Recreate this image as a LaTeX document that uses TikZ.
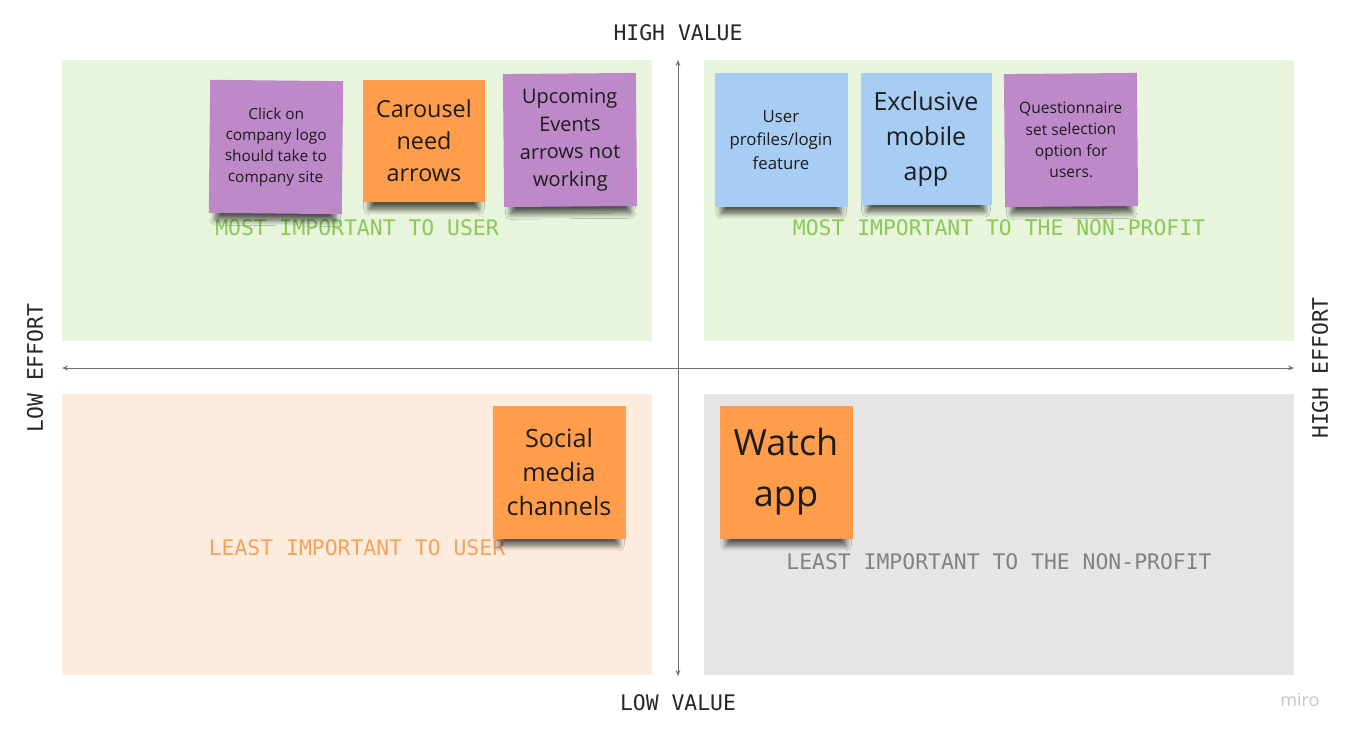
\documentclass[tikz,border=0pt]{standalone}
\usepackage{fontspec}
\setmainfont{Open Sans}
\newfontfamily\monofont{DejaVu Sans Mono}
\usetikzlibrary{positioning,shadows.blur,arrows.meta}

\definecolor{greenbg}{HTML}{E8F5DC}
\definecolor{orangebg}{HTML}{FDECDD}
\definecolor{greybg}{HTML}{E5E5E5}
\definecolor{purplenote}{HTML}{BE89C8}
\definecolor{orangenote}{HTML}{FF9D4A}
\definecolor{bluenote}{HTML}{A8CDF4}
\definecolor{greentext}{HTML}{8AC955}
\definecolor{orangetext}{HTML}{F5A25A}
\definecolor{greytext}{HTML}{828282}
\definecolor{axisgrey}{HTML}{707070}
\definecolor{notetext}{HTML}{1C1C1C}

\begin{document}
\begin{tikzpicture}[x=0.5pt,y=-0.5pt,
    quad/.style={minimum width=295pt,minimum height=140.5pt,inner sep=0pt},
    note/.style={minimum width=66.5pt,minimum height=66.5pt,inner sep=0pt,
      align=center,text=notetext,
      blur shadow={shadow xshift=0pt,shadow yshift=-7.5pt,shadow scale=.9,
        shadow blur steps=10,shadow blur radius=3pt,shadow opacity=65}},
    purple/.style={note,fill=purplenote},
    orange/.style={note,fill=orangenote},
    blue/.style={note,fill=bluenote},
    axislabel/.style={font=\monofont\fontsize{10.7}{13}\selectfont,text=black!85},
    zonelabel/.style={font=\monofont\fontsize{10.7}{13}\selectfont},
    axis/.style={draw=axisgrey,line width=.5pt,{Stealth[length=3pt,width=2.4pt]}-{Stealth[length=3pt,width=2.4pt]}}]
  \useasboundingbox[fill=white] (0,0) rectangle (1354,738);

  % quadrants
  \node[quad,fill=greenbg]  (q_tl) at (357,200.5) {};
  \node[quad,fill=greenbg]  (q_tr) at (999,200.5) {};
  \node[quad,fill=orangebg] (q_bl) at (357,534.5) {};
  \node[quad,fill=greybg]   (q_br) at (999,534.5) {};

  % axes
  \coordinate (v_top) at (678,60);
  \coordinate (v_bot) at (678,676);
  \coordinate (h_left) at (62,368);
  \coordinate (h_right) at (1294,368);
  \draw[axis] (v_bot) -- (v_top);
  \draw[axis] (h_left) -- (h_right);

  \node[axislabel] (high_value) at (678,33) {HIGH VALUE};
  \node[axislabel] (low_value) at (678,703) {LOW VALUE};
  \node[axislabel,rotate=90] (low_effort) at (35,368) {LOW EFFORT};
  \node[axislabel,rotate=90] (high_effort) at (1320,368) {HIGH EFFORT};

  \node[zonelabel,text=greentext]  (most_user) at (357,228) {MOST IMPORTANT TO USER};
  \node[zonelabel,text=greentext]  (most_np) at (999,228) {MOST IMPORTANT TO THE NON-PROFIT};
  \node[zonelabel,text=orangetext] (least_user) at (357,548) {LEAST IMPORTANT TO USER};
  \node[zonelabel,text=greytext]   (least_np) at (999,562) {LEAST IMPORTANT TO THE NON-PROFIT};

  % sticky notes, top left
  \node[purple,rotate=-.6,font=\fontsize{7.7}{10.5}\selectfont] (n_logo) at (276,147)
    {Click on\\company logo\\should take to\\company site};
  \node[orange,minimum width=61pt,minimum height=61pt,font=\fontsize{11.7}{16}\selectfont]
    (n_carousel) at (424,141) {Carousel\\need\\arrows};
  \node[purple,rotate=.5,font=\fontsize{10}{13.8}\selectfont] (n_events) at (570,140)
    {Upcoming\\Events\\arrows not\\working};

  % sticky notes, top right
  \node[blue,font=\fontsize{8.4}{11.7}\selectfont] (n_profiles) at (781,140)
    {User\\profiles/login\\feature};
  \node[blue,minimum width=65.5pt,minimum height=65.5pt,font=\fontsize{12.5}{17.5}\selectfont]
    (n_mobile) at (926,139) {Exclusive\\mobile\\app};
  \node[purple,rotate=.5,font=\fontsize{7.8}{10.7}\selectfont] (n_quest) at (1071,140)
    {Questionnaire\\set selection\\option for\\users.};

  % sticky notes, bottom
  \node[orange,font=\fontsize{12.6}{16.8}\selectfont] (n_social) at (559,472)
    {Social\\media\\channels};
  \node[orange,font=\fontsize{18}{25.5}\selectfont] (n_watch) at (786,472)
    {Watch\\app};

  \node[font=\fontsize{9}{10}\selectfont,text=black!22] (miro) at (1300,700) {miro};
\end{tikzpicture}
\end{document}
